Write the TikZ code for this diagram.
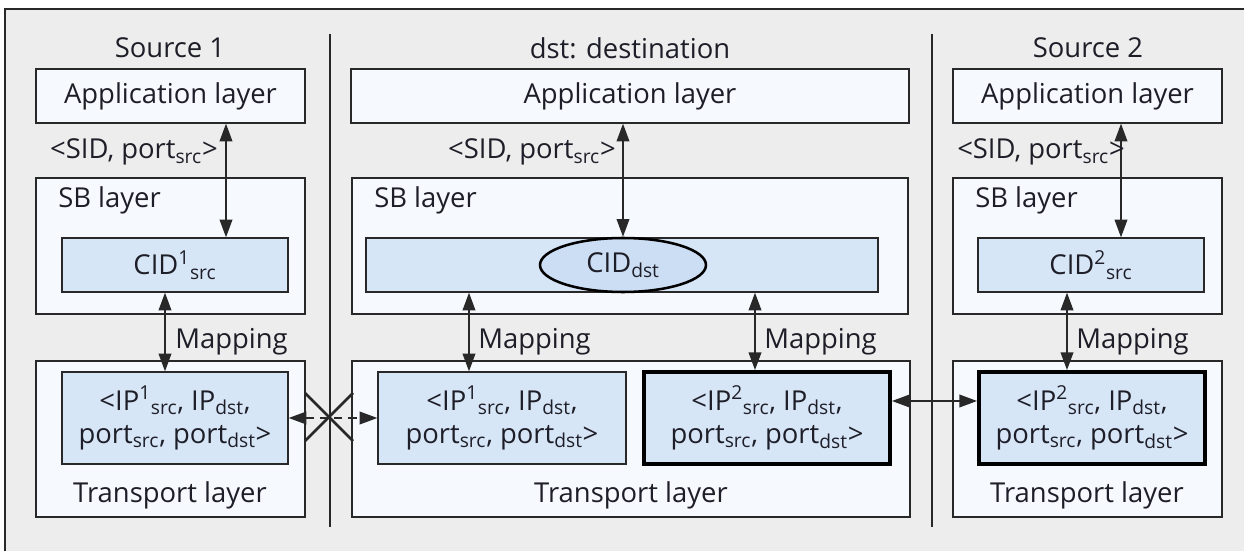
\documentclass[tikz,border=0pt]{standalone}
\usepackage{fontspec}
\setmainfont{Open Sans}
\usetikzlibrary{arrows.meta,shapes.geometric}

\definecolor{bggray}{RGB}{237,237,237}
\definecolor{layerfill}{RGB}{246,250,254}
\definecolor{idfill}{RGB}{215,230,247}
\definecolor{cidfill}{RGB}{203,222,244}
\definecolor{linegray}{RGB}{40,40,40}
\definecolor{textdark}{RGB}{30,30,40}

\newcommand{\unitpx}{0.025cm}

\begin{document}
\begin{tikzpicture}[
  x=0.025cm, y=-0.025cm,
  font=\fontsize{19.5}{23.5}\selectfont, text=textdark,
  % Layer boxes
  layer/.style={rectangle, draw=linegray, fill=layerfill, line width=1pt,
    inner sep=0pt, minimum width=#1*\unitpx},
  appbox/.style={layer=#1, minimum height=54*\unitpx},
  sbbox/.style={layer=#1, minimum height=136*\unitpx},
  trbox/.style={layer=#1, minimum height=156*\unitpx},
  % Identifier boxes
  idbox/.style={rectangle, draw=linegray, fill=idfill, line width=1pt,
    inner sep=0pt, minimum width=#1*\unitpx, align=center},
  cidbox/.style={idbox=#1, minimum height=54*\unitpx},
  ipbox/.style={idbox=#1, minimum height=92*\unitpx},
  chosen/.style={line width=2.8pt, draw=black},
  cidoval/.style={ellipse, draw=black, fill=cidfill, line width=1.8pt,
    inner sep=0pt, minimum width=166*\unitpx, minimum height=54*\unitpx},
  % Arrow styles
  dbl/.style={{Triangle[length=12.5pt,width=9pt]}-{Triangle[length=12.5pt,width=9pt]},
    draw=linegray, line width=1pt},
  blocked/.style={dbl, dash pattern=on 6pt off 4pt},
  % Text styles
  header/.style={inner sep=0pt},
  lbl/.style={inner sep=0pt},
]

\useasboundingbox (0,0) rectangle (1244,551);

% Frame and column separators
\fill[bggray] (5,9) rectangle (1244,551);
\draw[linegray, line width=1pt] (5,551) -- (5,9) -- (1244,9);
\draw[linegray, line width=1pt] (330,34) -- (330,527);
\draw[linegray, line width=1pt] (932,34) -- (932,527);

% Column headers
\node[header] (h1) at (170,48) {Source 1};
\node[header] (h2) at (630,48) {dst: destination};
\node[header] (h3) at (1088,48) {Source 2};

% --- Source 1 ---
\node[appbox=269] (app1) at (170.5,96) {Application layer};
\node[sbbox=269] (sb1) at (170.5,246) {};
\node[lbl, anchor=west] (sbl1) at (58,200) {SB layer};
\node[cidbox=226] (cid1) at (175,265) {CID\textsuperscript{1}\textsubscript{src}};
\node[trbox=269] (tr1) at (170.5,439) {};
\node[ipbox=226] (ip1) at (175,418)
  {<IP\textsuperscript{1}\textsubscript{src}, IP\textsubscript{dst},\\
   port\textsubscript{src}, port\textsubscript{dst}>};
\node[lbl] (trl1) at (170,495) {Transport layer};
\draw[dbl] (app1.south -| 226,0) -- (cid1.north -| 226,0);
\node[lbl, anchor=east] (sid1) at (218,152) {<SID, port\textsubscript{src}>};
\draw[dbl] (cid1.south -| 165,0) -- (ip1.north -| 165,0);
\node[lbl, anchor=west] (map1) at (175,342) {Mapping};

% --- dst: destination ---
\node[appbox=558] (app2) at (630,96) {Application layer};
\node[sbbox=556] (sb2) at (630,246) {};
\node[lbl, anchor=west] (sbl2) at (374,200) {SB layer};
\node[cidbox=512] (cid2) at (622,265) {};
\node[cidoval] (cidE) at (623,265) {CID\textsubscript{dst}};
\node[trbox=558] (tr2) at (631,439) {};
\node[ipbox=248] (ip1d) at (502,418)
  {<IP\textsuperscript{1}\textsubscript{src}, IP\textsubscript{dst},\\
   port\textsubscript{src}, port\textsubscript{dst}>};
\node[ipbox=246, chosen] (ip2d) at (767,418)
  {<IP\textsuperscript{2}\textsubscript{src}, IP\textsubscript{dst},\\
   port\textsubscript{src}, port\textsubscript{dst}>};
\node[lbl] (trl2) at (631,495) {Transport layer};
\draw[dbl] (app2.south -| cidE.north) -- (cidE.north);
\node[lbl, anchor=east] (sid2) at (616,152) {<SID, port\textsubscript{src}>};
\draw[dbl] (cid2.south -| 469,0) -- (ip1d.north -| 469,0);
\node[lbl, anchor=west] (map2) at (478,342) {Mapping};
\draw[dbl] (cid2.south -| 755,0) -- (ip2d.north -| 755,0);
\node[lbl, anchor=west] (map3) at (764,342) {Mapping};

% --- Source 2 ---
\node[appbox=269] (app3) at (1087.5,96) {Application layer};
\node[sbbox=269] (sb3) at (1087.5,246) {};
\node[lbl, anchor=west] (sbl3) at (975,200) {SB layer};
\node[cidbox=226] (cid3) at (1091,265) {CID\textsuperscript{2}\textsubscript{src}};
\node[trbox=269] (tr3) at (1087.5,439) {};
\node[ipbox=226, chosen] (ip2s) at (1092,418)
  {<IP\textsuperscript{2}\textsubscript{src}, IP\textsubscript{dst},\\
   port\textsubscript{src}, port\textsubscript{dst}>};
\node[lbl] (trl3) at (1087,495) {Transport layer};
\draw[dbl] (app3.south -| 1121,0) -- (cid3.north -| 1121,0);
\node[lbl, anchor=east] (sid3) at (1125,152) {<SID, port\textsubscript{src}>};
\draw[dbl] (cid3.south -| 1067,0) -- (ip2s.north -| 1067,0);
\node[lbl, anchor=west] (map4) at (1076,342) {Mapping};

% Connections between hosts
\draw[blocked] (ip1.east) -- (ip1d.west);
\draw[linegray, line width=1.9pt] (305,393) -- (353,441);
\draw[linegray, line width=1.9pt] (305,441) -- (353,393);
\draw[dbl] (ip2d.east |- 0,401) -- (ip2s.west |- 0,401);

\end{tikzpicture}
\end{document}
